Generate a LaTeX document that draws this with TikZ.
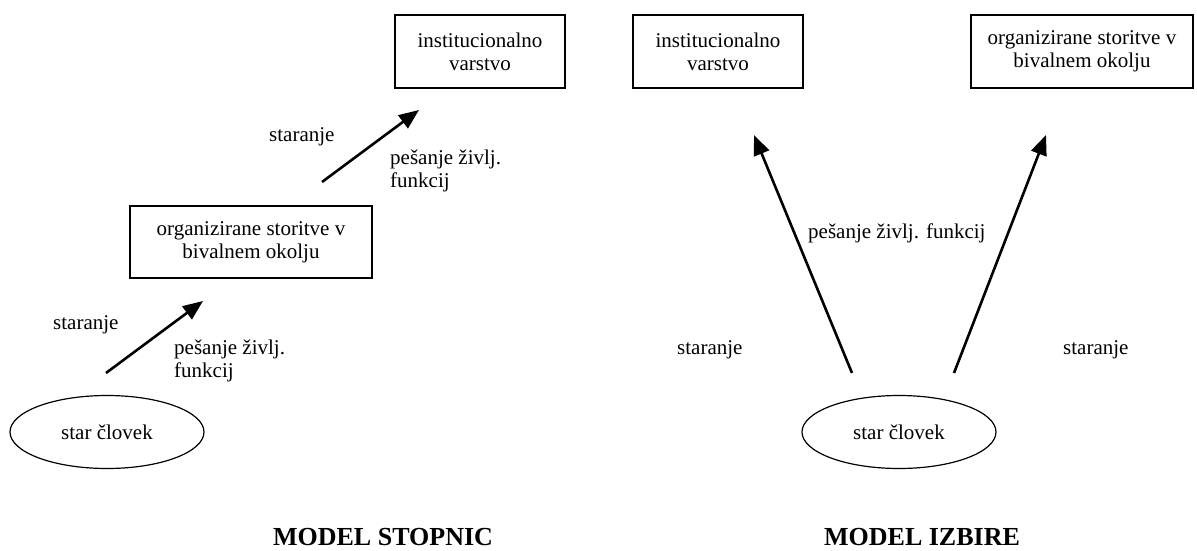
\documentclass[tikz,border=0pt]{standalone}
\usepackage{fontspec}
\setmainfont{Liberation Serif}
\usetikzlibrary{arrows.meta,shapes.geometric}
\begin{document}
\begin{tikzpicture}[x=1pt,y=-1pt,
  every node/.style={inner sep=0pt,font=\fontsize{21}{23}\selectfont},
  boxnode/.style={draw,line width=1.4pt,align=center,minimum height=73pt},
  ellnode/.style={draw,ellipse,line width=1.2pt,minimum width=194pt,minimum height=73pt},
  lbl/.style={align=left},
  ttl/.style={font=\fontsize{26}{30}\selectfont\bfseries,anchor=base},
  arr/.style={line width=2.6pt,-{Triangle[length=20pt,width=16pt]}}]
\useasboundingbox (0,0) rectangle (1197,551);
% left model
\node[boxnode,minimum width=170pt] (linst) at (480,51.5) {institucionalno\\varstvo};
\node[boxnode,minimum width=242pt,minimum height=72pt] (lorg) at (251,242) {organizirane storitve v\\bivalnem okolju};
\node[ellnode] (lell) at (107,432) {star človek};
\coordinate (la1) at (106,373);
\coordinate (lb1) at (203,301);
\coordinate (la2) at (322,182);
\coordinate (lb2) at (419,110);
\draw[arr] (la1) -- (lb1);
\draw[arr] (la2) -- (lb2);
\node[anchor=base west] (lst1) at (53,329) {staranje};
\node[lbl,anchor=north west] (lpe1) at (174,340) {pešanje življ.\\funkcij};
\node[anchor=base west] (lst2) at (269,141) {staranje};
\node[lbl,anchor=north west] (lpe2) at (390,150) {pešanje življ.\\funkcij};
\node[ttl] (lt) at (383,545) {MODEL STOPNIC};
% right model
\node[boxnode,minimum width=170pt] (rinst) at (718,51.5) {institucionalno\\varstvo};
\node[boxnode,minimum width=222pt] (rorg) at (1082,51.5) {organizirane storitve v\\bivalnem okolju};
\node[ellnode] (rell) at (899,432) {star človek};
\coordinate (ra1) at (852,373);
\coordinate (rb1) at (754,135);
\coordinate (ra2) at (954,373);
\coordinate (rb2) at (1046,135);
\draw[arr] (ra1) -- (rb1);
\draw[arr] (ra2) -- (rb2);
\node[anchor=base west] (rpe) at (808,238) {pešanje življ. funkcij};
\node[anchor=base west] (rst1) at (677,354) {staranje};
\node[anchor=base west] (rst2) at (1063,354) {staranje};
\node[ttl] (rt) at (922,545) {MODEL IZBIRE};
\end{tikzpicture}
\end{document}
